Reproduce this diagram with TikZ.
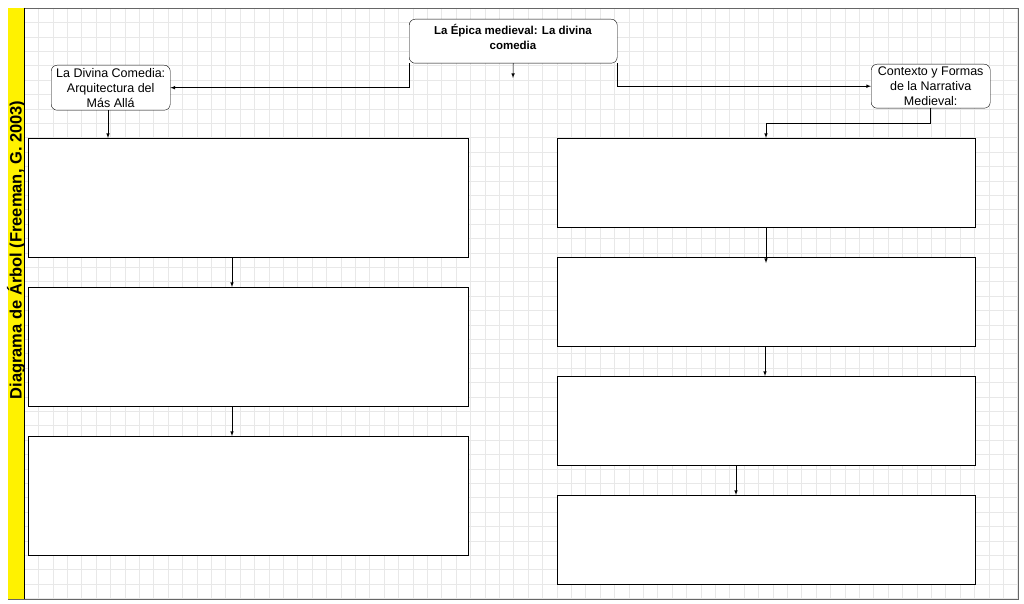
\documentclass[tikz,border=0pt]{standalone}
\usepackage{fontspec}
\setmainfont{Liberation Sans}
\begin{document}
\begin{tikzpicture}[x=1pt,y=-1pt,
  rbox/.style={draw,rounded corners=6pt,align=center,inner sep=1pt,fill=white},
  sbox/.style={draw,fill=white},
  arr/.style={-latex,line width=0.6pt}]
\useasboundingbox (0,0) rectangle (1024,604);
\fill[white] (0,0) rectangle (1024,604);
\foreach \i in {0,...,69} {\draw[black!9,line width=0.4pt] (24+\i*14.4,8) -- (24+\i*14.4,599);}
\foreach \j in {0,...,41} {\draw[black!9,line width=0.4pt] (24,8+\j*14.4) -- (1018,8+\j*14.4);}
\draw[black!60,line width=0.8pt] (8,8) rectangle (1018,599);
\fill[yellow] (8,8) rectangle (24,599);
\draw (24,8) -- (24,599);
\node[rotate=90,font=\bfseries\fontsize{16.5}{19}\selectfont] (title) at (16,250) {Diagrama de Árbol (Freeman, G. 2003)};
\node[rbox,minimum width=208pt,minimum height=44pt,anchor=north west] (top) at (409,19) {};
\node[font=\bfseries\fontsize{11.5}{15}\selectfont,align=center,anchor=north] (toptext) at (513,21) {La Épica medieval: La divina\\comedia};
\node[rbox,minimum width=119pt,minimum height=45pt,anchor=north west,font=\fontsize{12.5}{15}\selectfont] (L) at (51,65) {La Divina Comedia:\\Arquitectura del\\Más Allá};
\node[rbox,minimum width=119pt,minimum height=44pt,anchor=north west,font=\fontsize{12.5}{15}\selectfont] (R) at (871,64) {Contexto y Formas\\de la Narrativa\\Medieval:};
\node[sbox,minimum width=440pt,minimum height=119pt,anchor=north west] (l1) at (28,138) {};
\node[sbox,minimum width=440pt,minimum height=119pt,anchor=north west] (l2) at (28,287) {};
\node[sbox,minimum width=440pt,minimum height=119pt,anchor=north west] (l3) at (28,436) {};
\node[sbox,minimum width=418pt,minimum height=89pt,anchor=north west] (r1) at (557,138) {};
\node[sbox,minimum width=418pt,minimum height=89pt,anchor=north west] (r2) at (557,257) {};
\node[sbox,minimum width=418pt,minimum height=89pt,anchor=north west] (r3) at (557,376) {};
\node[sbox,minimum width=418pt,minimum height=89pt,anchor=north west] (r4) at (557,495) {};
\coordinate (dang) at (513,78);
\draw[arr] (top.south) -- (dang);
\draw[arr] (top.south west) |- (L.east);
\draw[arr] (top.south east) |- (R.west);
\draw[arr] (L.south -| 108,0) -- (l1.north -| 108,0);
\draw[arr] (R.south -| 930,0) -- (930,123) -| (r1.north -| 766,0);
\draw[arr] (l1.south -| 232,0) -- (l2.north -| 232,0);
\draw[arr] (l2.south -| 232,0) -- (l3.north -| 232,0);
\draw[arr] (r1.south -| 766,0) -- (766,263);
\draw[arr] (r2.south -| 765,0) -- (r3.north -| 765,0);
\draw[arr] (r3.south -| 736,0) -- (r4.north -| 736,0);
\end{tikzpicture}
\end{document}
